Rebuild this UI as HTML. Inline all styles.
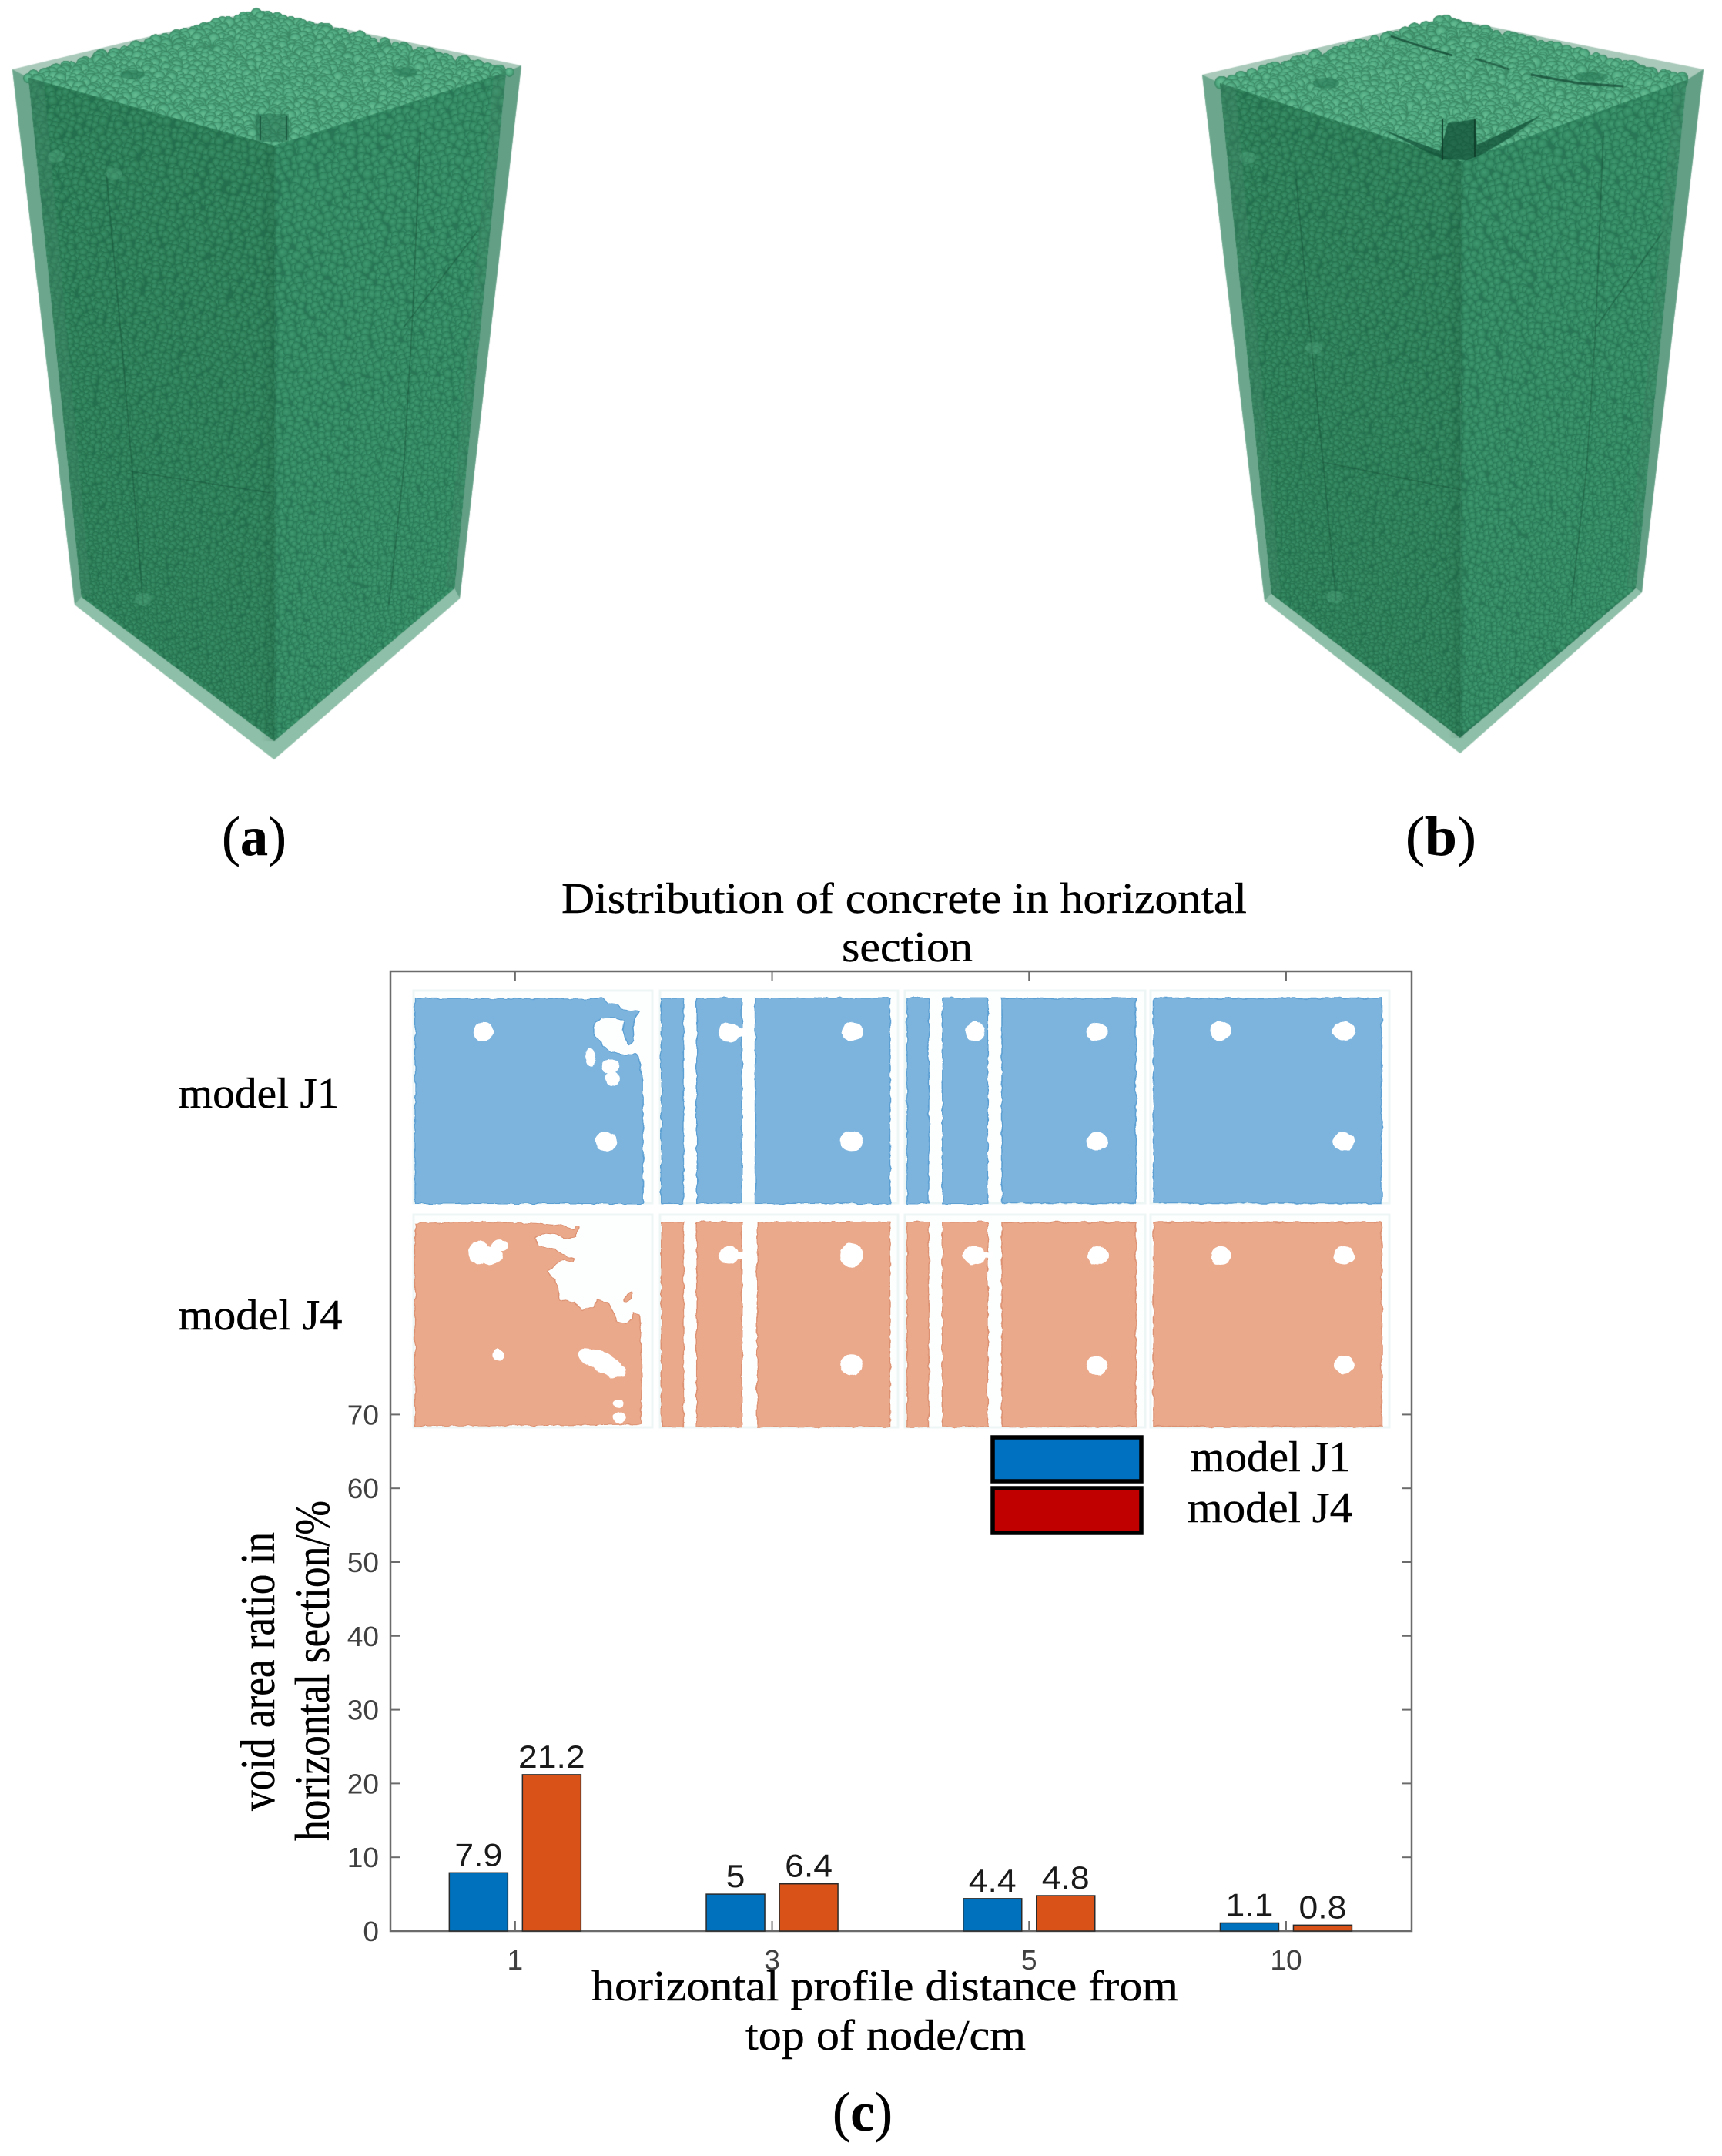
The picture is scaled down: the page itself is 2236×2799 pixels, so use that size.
<!DOCTYPE html>
<html lang="en">
<head>
<meta charset="utf-8">
<title>Concrete distribution in models J1 and J4</title>
<style>
html,body{margin:0;padding:0;background:#fff;}
#page{position:relative;width:2236px;height:2799px;overflow:hidden;background:#fff;}
canvas{position:absolute;top:0;display:block;}
svg{position:absolute;left:0;top:0;}
text{fill:#000;font-family:"Liberation Serif",serif;stroke:#000;stroke-width:0.4;}
</style>
</head>
<body>
<div id="page">
<canvas id="cubeA" width="720" height="1030" style="left:0"></canvas>
<canvas id="cubeB" width="696" height="1030" style="left:1540px"></canvas>

<svg id="chart" width="2236" height="2799" viewBox="0 0 2236 2799" xmlns="http://www.w3.org/2000/svg">
  <defs>
    <filter id="rough" filterUnits="userSpaceOnUse" x="520" y="1270" width="1300" height="600">
      <feTurbulence type="fractalNoise" baseFrequency="0.09" numOctaves="2" seed="7" result="n"/>
      <feDisplacementMap in="SourceGraphic" in2="n" scale="5" xChannelSelector="R" yChannelSelector="G"/>
    </filter>
  </defs>

  <text x="1174" y="1185" font-size="56" text-anchor="middle" textLength="890" lengthAdjust="spacingAndGlyphs">Distribution of concrete in horizontal</text>
  <text x="1178" y="1248" font-size="56" text-anchor="middle" textLength="170" lengthAdjust="spacingAndGlyphs">section</text>

  <text x="330" y="1110" font-size="72" text-anchor="middle" textLength="84" lengthAdjust="spacingAndGlyphs">(<tspan font-weight="bold">a</tspan>)</text>
  <text x="1871" y="1110" font-size="72" text-anchor="middle" textLength="92" lengthAdjust="spacingAndGlyphs">(<tspan font-weight="bold">b</tspan>)</text>
  <text x="1120" y="2766" font-size="72" text-anchor="middle" textLength="78" lengthAdjust="spacingAndGlyphs">(<tspan font-weight="bold">c</tspan>)</text>

  <g id="axes"></g>

  <g fill="#fdfefe" stroke="#eef6f5" stroke-width="3">
    <rect x="537" y="1286" width="310" height="276"/><rect x="857" y="1286" width="309" height="276"/><rect x="1175" y="1286" width="312" height="276"/><rect x="1494" y="1286" width="310" height="276"/>
    <rect x="537" y="1577" width="310" height="276"/><rect x="857" y="1577" width="309" height="276"/><rect x="1175" y="1577" width="312" height="276"/><rect x="1494" y="1577" width="310" height="276"/>
  </g>

  <g filter="url(#rough)">
    <g transform="matrix(0.5740,0,0,0.3954,500,1260)">
      <g fill="#7db4de" stroke="#5b9fd2" stroke-width="2.5">
        <path d="M68,92 L200,92 L330,94 L490,92 L505,108 L525,112 L535,128 L574,135 L560,170 L563,230 L552,245 L545,230 L538,195 L542,165 L520,155 L490,155 L472,180 L472,215 L490,240 L510,265 L545,278 L565,272 L575,285 L578,330 L583,350 L583,765 L68,765Z"/>
        <rect x="625" y="90" width="50" height="675"/><rect x="705" y="90" width="102" height="675"/><rect x="838" y="90" width="304" height="675"/>
        <rect x="1181" y="90" width="49" height="675"/><rect x="1261" y="90" width="102" height="675"/>
      </g>
      <g fill="#eba98c" stroke="#dc9272" stroke-width="2.5">
        <path d="M68,830 L200,826 L340,830 L400,838 L425,850 L430,838 L437,840 L432,875 L405,880 L385,865 L355,862 L340,880 L345,905 L385,915 L415,940 L428,945 L425,955 L405,950 L385,965 L368,990 L385,1015 L395,1080 L430,1090 L445,1115 L470,1105 L480,1080 L505,1090 L525,1150 L545,1160 L560,1145 L560,1125 L575,1130 L578,1200 L581,1340 L578,1490 L68,1495Z"/>
        <ellipse cx="550" cy="1072" rx="7" ry="18" transform="rotate(25 550 1072)"/>
        <rect x="625" y="826" width="50" height="672"/><rect x="705" y="826" width="102" height="672"/><rect x="842" y="826" width="300" height="672"/>
        <rect x="1181" y="826" width="49" height="672"/><rect x="1261" y="826" width="102" height="672"/>
      </g>
      <g fill="#fff">
        <ellipse cx="222" cy="202" rx="22" ry="33"/><ellipse cx="500" cy="562" rx="25" ry="32"/><ellipse cx="465" cy="285" rx="12" ry="30"/><ellipse cx="510" cy="315" rx="20" ry="24"/><ellipse cx="515" cy="355" rx="17" ry="24"/>
        <ellipse cx="778" cy="202" rx="24" ry="32"/><rect x="790" y="190" width="30" height="25"/><ellipse cx="1058" cy="200" rx="24" ry="30"/><ellipse cx="1055" cy="560" rx="26" ry="34"/><ellipse cx="1335" cy="200" rx="22" ry="32"/>
        <ellipse cx="212" cy="925" rx="24" ry="38"/><ellipse cx="258" cy="905" rx="18" ry="22"/><ellipse cx="240" cy="935" rx="26" ry="30"/><ellipse cx="255" cy="1262" rx="13" ry="18"/>
        <path d="M435,1255 L450,1240 L490,1245 L525,1280 L545,1310 L540,1335 L510,1335 L475,1310 L445,1285Z"/>
        <ellipse cx="528" cy="1422" rx="12" ry="15"/><ellipse cx="530" cy="1468" rx="14" ry="18"/>
        <ellipse cx="778" cy="935" rx="24" ry="30"/><rect x="790" y="925" width="25" height="20"/><ellipse cx="1055" cy="935" rx="26" ry="40"/><ellipse cx="1055" cy="1295" rx="25" ry="35"/>
        <ellipse cx="1333" cy="935" rx="26" ry="30"/><rect x="1350" y="925" width="25" height="20"/>
      </g>
    </g>
    <g fill="#7db4de" stroke="#5b9fd2" stroke-width="1.5">
      <rect x="1301" y="1296" width="174" height="266"/><rect x="1498" y="1296" width="296" height="266"/>
    </g>
    <g fill="#eba98c" stroke="#dc9272" stroke-width="1.5">
      <rect x="1301" y="1587" width="174" height="265"/><rect x="1498" y="1587" width="296" height="265"/>
    </g>
    <g fill="#fff">
      <ellipse cx="1424.6" cy="1339" rx="14" ry="12"/><ellipse cx="1424.6" cy="1482" rx="14" ry="12"/><ellipse cx="1585" cy="1338.5" rx="14" ry="12"/><ellipse cx="1745.5" cy="1338.5" rx="15" ry="12"/><ellipse cx="1744.6" cy="1482" rx="14" ry="12"/>
      <ellipse cx="1425.5" cy="1630" rx="14" ry="12"/><ellipse cx="1424.6" cy="1773" rx="14" ry="12"/><ellipse cx="1585" cy="1630" rx="13" ry="12"/><ellipse cx="1745.5" cy="1630" rx="14" ry="12"/><ellipse cx="1745.5" cy="1772" rx="13" ry="12"/>
    </g>
  </g>

  <text x="336" y="1438" font-size="56" text-anchor="middle" textLength="209" lengthAdjust="spacingAndGlyphs">model J1</text>
  <text x="338" y="1726" font-size="56" text-anchor="middle" textLength="213" lengthAdjust="spacingAndGlyphs">model J4</text>

  <g>
    <rect x="1289" y="1866" width="193" height="57" fill="#0070c0" stroke="#000" stroke-width="5.5"/>
    <rect x="1289" y="1932" width="193" height="58" fill="#c00000" stroke="#000" stroke-width="5.5"/>
    <text x="1650" y="1910" font-size="56" text-anchor="middle" textLength="208" lengthAdjust="spacingAndGlyphs">model J1</text>
    <text x="1649" y="1976" font-size="56" text-anchor="middle" textLength="214" lengthAdjust="spacingAndGlyphs">model J4</text>
  </g>

  <g id="bars"></g>

  <text transform="translate(356,2170) rotate(-90)" font-size="64" text-anchor="middle" textLength="362" lengthAdjust="spacingAndGlyphs">void area ratio in</text>
  <text transform="translate(427,2169) rotate(-90)" font-size="64" text-anchor="middle" textLength="442" lengthAdjust="spacingAndGlyphs">horizontal section/%</text>
  <text x="1149" y="2597" font-size="56" text-anchor="middle" textLength="762" lengthAdjust="spacingAndGlyphs">horizontal profile distance from</text>
  <text x="1150" y="2661" font-size="56" text-anchor="middle" textLength="364" lengthAdjust="spacingAndGlyphs">top of node/cm</text>
</svg>
</div>

<script>
/* ---------- chart data ---------- */
const categories = ['1', '3', '5', '10'];
const seriesJ1 = [7.9, 5, 4.4, 1.1];
const seriesJ4 = [21.2, 6.4, 4.8, 0.8];
const yTicks = [0, 10, 20, 30, 40, 50, 60, 70];

/* ---------- axis functions ---------- */
const NS = 'http://www.w3.org/2000/svg';
const plot = {left: 507, right: 1833, top: 1261, bottom: 2507};
const pxPerUnit = 9.58;
const bandStart = 502;
const bandStep = 333.7;
const barWidth = 76;
const barOffset = 47.5;
const yScale = v => plot.bottom - v * pxPerUnit;
const xScale = i => bandStart + bandStep * (i + 0.5);
const sansStyle = 'font-family:\'Liberation Sans\',sans-serif;stroke:none;';

function mk(parent, tag, attrs, txt) {
  const el = document.createElementNS(NS, tag);
  for (const k in attrs) el.setAttribute(k, attrs[k]);
  if (txt !== undefined) el.textContent = txt;
  parent.appendChild(el);
  return el;
}

const axes = document.getElementById('axes');
const barsG = document.getElementById('bars');

const box = mk(axes, 'rect', {x: plot.left, y: plot.top, width: plot.right - plot.left, height: plot.bottom - plot.top, fill: '#fff', stroke: '#6b6b6b', 'stroke-width': 2.5});



yTicks.forEach(v => {
  const y = yScale(v);
  const tl = mk(axes, 'line', {x1: plot.left, x2: plot.left + 13, y1: y, y2: y, stroke: '#6b6b6b', 'stroke-width': 2});
  
  
  const tr = mk(axes, 'line', {x1: plot.right, x2: plot.right - 13, y1: y, y2: y, stroke: '#6b6b6b', 'stroke-width': 2});
  
  
  const lab = mk(axes, 'text', {transform: 'translate(492,' + (y + 13) + ') scale(1.03,1)', 'text-anchor': 'end', 'font-size': 36, style: sansStyle + 'fill:#404040'}, String(v));
  
  
});

categories.forEach((c, i) => {
  const x = xScale(i);
  const tb = mk(axes, 'line', {x1: x, x2: x, y1: plot.bottom, y2: plot.bottom - 13, stroke: '#6b6b6b', 'stroke-width': 2});
  
  
  const tt = mk(axes, 'line', {x1: x, x2: x, y1: plot.top, y2: plot.top + 13, stroke: '#6b6b6b', 'stroke-width': 2});
  
  
  const lab = mk(axes, 'text', {transform: 'translate(' + x + ',2557) scale(1.03,1)', 'text-anchor': 'middle', 'font-size': 36, style: sansStyle + 'fill:#404040'}, c);
  
  
});

function drawSeries(values, offset, color, nameBar, nameLabel) {
  values.forEach((v, i) => {
    const cx = xScale(i) + offset;
    const y = yScale(v);
    const r = mk(barsG, 'rect', {x: cx - barWidth / 2, y: y, width: barWidth, height: plot.bottom - y, fill: color, stroke: '#2a2a2a', 'stroke-width': 1.5});
    
    
    const t = mk(barsG, 'text', {transform: 'translate(' + cx + ',' + (y - 9) + ') scale(1.06,1)', 'text-anchor': 'middle', 'font-size': 42, style: sansStyle + 'fill:#1a1a1a'}, String(v));
    
    
  });
}
drawSeries(seriesJ1, -barOffset, '#0072bd', 'bar-model-j1', 'bar-value-j1');
drawSeries(seriesJ4, barOffset, '#d95319', 'bar-model-j4', 'bar-value-j4');

/* ---------- 3D particle renderings (decorative texture, not chart data) ---------- */
function rng(a) {
  return function () {
    a |= 0; a = a + 0x6D2B79F5 | 0;
    let t = Math.imul(a ^ a >>> 15, 1 | a);
    t = t + Math.imul(t ^ t >>> 7, 61 | t) ^ t;
    return ((t ^ t >>> 14) >>> 0) / 4294967296;
  };
}
function sprite(hi, mid, dark) {
  const s = document.createElement('canvas');
  s.width = s.height = 40;
  const c = s.getContext('2d');
  const g = c.createRadialGradient(17, 16, 1, 20, 20, 20);
  g.addColorStop(0, hi);
  g.addColorStop(0.65, mid);
  g.addColorStop(1, dark);
  c.fillStyle = g;
  c.beginPath();
  c.arc(20, 20, 20, 0, 7);
  c.fill();
  return s;
}
const spLeft = sprite('#3a9069', '#2f8059', '#236f4e');
const spRight = sprite('#409a72', '#348a63', '#287655');
const spTop = sprite('#66bd93', '#50aa82', '#37835f');

function poly(ctx, pts) {
  ctx.beginPath();
  pts.forEach((p, i) => i ? ctx.lineTo(p[0], p[1]) : ctx.moveTo(p[0], p[1]));
  ctx.closePath();
}
function lerp(a, b, t) { return [a[0] + (b[0] - a[0]) * t, a[1] + (b[1] - a[1]) * t]; }
function dist(a, b) { return Math.hypot(a[0] - b[0], a[1] - b[1]); }

function face(ctx, q, sp, base, r0, r1, rand) {
  ctx.save();
  poly(ctx, q);
  ctx.clip();
  ctx.fillStyle = base;
  ctx.fill();
  let v = 0;
  const H = (dist(q[0], q[3]) + dist(q[1], q[2])) / 2;
  while (v < 1) {
    const r = r0 + (r1 - r0) * v;
    const a = lerp(q[0], q[3], v), b = lerp(q[1], q[2], v);
    const len = dist(a, b);
    const n = Math.ceil(len / (r * 1.7));
    for (let i = -1; i <= n + 1; i++) {
      const u = (i + rand() * 0.7 + (Math.round(v * H / r) % 2) * 0.5) / n;
      const p = lerp(a, b, u);
      const rr = r * (0.82 + 0.45 * rand());
      ctx.drawImage(sp, p[0] - rr, p[1] - rr + (rand() - 0.5) * r * 0.7, rr * 2, rr * 2);
    }
    v += r * 1.35 / H;
  }
  ctx.restore();
}

function topFace(ctx, back, right, front, left, rand) {
  poly(ctx, [back, right, front, left]);
  ctx.fillStyle = '#3c8f6b';
  ctx.fill();
  const N = 36;
  for (let j = 0; j <= N; j++) {
    for (let i = 0; i <= N; i++) {
      const u = (i + rand() * 0.9 - 0.45) / N, v = (j + rand() * 0.9 - 0.45) / N;
      const p = lerp(lerp(back, right, u), lerp(left, front, u), v);
      const r = 5.5 + rand() * 3.5;
      ctx.drawImage(spTop, p[0] - r, p[1] - r, r * 2, r * 2);
    }
  }
}

function path(ctx, pts, color, w) {
  ctx.beginPath();
  pts.forEach((p, i) => i ? ctx.lineTo(p[0], p[1]) : ctx.moveTo(p[0], p[1]));
  ctx.strokeStyle = color;
  ctx.lineWidth = w;
  ctx.stroke();
}

function drawCube(id, ox, o, seed) {
  const ctx = document.getElementById(id).getContext('2d');
  const rand = rng(seed);
  ctx.setTransform(1, 0, 0, 1, -ox, 0);

  /* glass frame */
  poly(ctx, [o.L, o.back, o.R, o.BR, o.FB, o.BL]);
  ctx.fillStyle = '#a9c9ba';
  ctx.fill();
  poly(ctx, [o.L, o.iTL, o.iBL, o.BL]);
  ctx.fillStyle = '#6ca78d';
  ctx.fill();
  poly(ctx, [o.R, o.iTR, o.iBR, o.BR]);
  ctx.fillStyle = '#629f85';
  ctx.fill();
  poly(ctx, [o.BL, o.iBL, o.iFB, o.FB]);
  ctx.fillStyle = '#8ebfa8';
  ctx.fill();
  poly(ctx, [o.BR, o.iBR, o.iFB, o.FB]);
  ctx.fillStyle = '#8ebfa8';
  ctx.fill();

  /* particles */
  topFace(ctx, o.iBack, o.iTR, o.F, o.iTL, rand);
  o.topMarks(ctx);
  face(ctx, [o.iTL, o.F, o.iFB, o.iBL], spLeft, '#236f4e', 6, 4.2, rand);
  face(ctx, [o.F, o.iTR, o.iBR, o.iFB], spRight, '#287655', 6.5, 4.5, rand);

  /* translucent inner frame over the face margins */
  poly(ctx, [o.iTL, [o.iTL[0] + 20, o.iTL[1] + 5], [o.iBL[0] + 12, o.iBL[1] - 2], o.iBL]);
  ctx.fillStyle = 'rgba(70,135,105,0.35)';
  ctx.fill();
  poly(ctx, [o.iTR, [o.iTR[0] - 16, o.iTR[1] + 5], [o.iBR[0] - 12, o.iBR[1] - 2], o.iBR]);
  ctx.fillStyle = 'rgba(70,135,105,0.3)';
  ctx.fill();

  /* front edge shading */
  const g = ctx.createLinearGradient(o.F[0] - 16, 0, o.F[0] + 4, 0);
  g.addColorStop(0, 'rgba(15,70,45,0)');
  g.addColorStop(0.85, 'rgba(15,70,45,0.18)');
  g.addColorStop(1, 'rgba(15,70,45,0)');
  ctx.fillStyle = g;
  ctx.fillRect(o.F[0] - 16, o.F[1], 20, o.iFB[1] - o.F[1]);

  /* embedded rebar lines */
  o.rebars.forEach(r => path(ctx, r, 'rgba(20,75,50,0.45)', 1.6));
  o.nodes.forEach(n => {
    ctx.beginPath();
    ctx.ellipse(n[0], n[1], 11, 8, 0, 0, 7);
    ctx.fillStyle = 'rgba(90,175,135,0.35)';
    ctx.fill();
  });
  if (o.front) o.front(ctx);
}

drawCube('cubeA', 0, {
  L: [16, 90], back: [333, 14], R: [677, 85], BR: [597, 777], FB: [356, 986], BL: [97, 785],
  iTL: [37, 101], iBack: [333, 18], iTR: [657, 94], F: [356, 189], iFB: [356, 962], iBL: [106, 775], iBR: [590, 764],
  rebars: [
    [[138, 225], [158, 445], [172, 612], [186, 785]],
    [[546, 172], [535, 425], [524, 612], [505, 785]],
    [[170, 612], [352, 640]],
    [[524, 425], [620, 300]]
  ],
  nodes: [[148, 226], [73, 203], [186, 778]],
  topMarks(ctx) {
    ctx.fillStyle = 'rgba(35,110,78,0.5)';
    ctx.fillRect(332, 148, 43, 36);
    path(ctx, [[338, 150], [338, 182]], '#1c5a3f', 2);
    path(ctx, [[372, 150], [372, 182]], '#1c5a3f', 2);
    ctx.beginPath();
    ctx.ellipse(172, 97, 16, 6, 0, 0, 7);
    ctx.fillStyle = 'rgba(40,120,85,0.6)';
    ctx.fill();
    ctx.beginPath();
    ctx.ellipse(526, 94, 16, 6, 0, 0, 7);
    ctx.fill();
  }
}, 11);

drawCube('cubeB', 1540, {
  L: [1561, 97], back: [1878, 23], R: [2212, 90], BR: [2132, 769], FB: [1896, 978], BL: [1642, 780],
  iTL: [1584, 108], iBack: [1878, 28], iTR: [2190, 104], F: [1897, 209], iFB: [1896, 958], iBL: [1651, 771], iBR: [2124, 764],
  rebars: [
    [[1683, 232], [1703, 450], [1718, 600], [1735, 780]],
    [[2082, 172], [2072, 425], [2060, 610], [2040, 785]],
    [[1718, 600], [1897, 636]],
    [[2072, 425], [2160, 300]]
  ],
  nodes: [[1706, 452], [1620, 205], [1733, 775]],
  topMarks(ctx) {
    ctx.beginPath();
    ctx.ellipse(1722, 108, 17, 7, 0, 0, 7);
    ctx.fillStyle = 'rgba(40,120,85,0.6)';
    ctx.fill();
    ctx.beginPath();
    ctx.ellipse(2066, 100, 22, 6, 0, 0, 7);
    ctx.fill();
    path(ctx, [[1806, 47], [1845, 60], [1886, 72]], 'rgba(15,65,45,0.75)', 2.5);
    path(ctx, [[1915, 76], [1960, 90]], 'rgba(15,65,45,0.6)', 2.5);
    path(ctx, [[1988, 97], [2050, 108], [2108, 112]], 'rgba(15,65,45,0.7)', 3);
  },
  front(ctx) {
    /* dark notch at the front corner */
    ctx.fillStyle = 'rgba(18,80,55,0.75)';
    ctx.beginPath();
    ctx.moveTo(1795, 168);
    ctx.lineTo(1870, 196);
    ctx.lineTo(1880, 160);
    ctx.lineTo(1915, 155);
    ctx.lineTo(1918, 188);
    ctx.lineTo(2000, 150);
    ctx.lineTo(1962, 178);
    ctx.lineTo(1925, 200);
    ctx.lineTo(1905, 208);
    ctx.lineTo(1875, 207);
    ctx.lineTo(1850, 196);
    ctx.closePath();
    ctx.fill();
    path(ctx, [[1873, 155], [1873, 208]], '#0f3f2b', 2);
    path(ctx, [[1915, 155], [1915, 204]], '#0f3f2b', 2);
  }
}, 23);
</script>
</body>
</html>
